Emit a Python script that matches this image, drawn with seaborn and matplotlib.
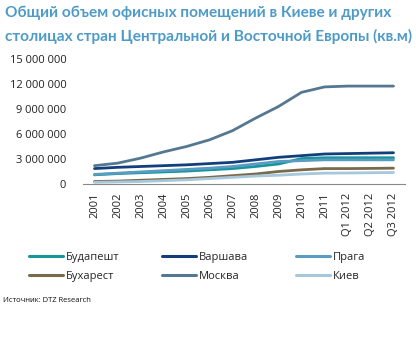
import matplotlib
matplotlib.use('Agg')
import matplotlib.pyplot as plt
import seaborn as sns
import pandas as pd
from matplotlib.ticker import FuncFormatter, FixedLocator

categories = ['2001', '2002', '2003', '2004', '2005', '2006', '2007', '2008',
              '2009', '2010', '2011', 'Q1 2012', 'Q2 2012', 'Q3 2012']
budapest = [1.10, 1.25, 1.35, 1.45, 1.55, 1.70, 1.85, 2.10, 2.40, 3.05, 3.15, 3.15, 3.15, 3.15]
warsaw = [1.85, 2.00, 2.10, 2.20, 2.30, 2.45, 2.60, 2.90, 3.20, 3.40, 3.60, 3.65, 3.70, 3.75]
prague = [1.15, 1.30, 1.45, 1.60, 1.75, 1.90, 2.10, 2.40, 2.70, 2.80, 2.90, 2.90, 2.90, 2.90]
bucharest = [0.30, 0.35, 0.45, 0.55, 0.65, 0.80, 1.00, 1.20, 1.50, 1.70, 1.85, 1.85, 1.87, 1.90]
moscow = [2.20, 2.50, 3.10, 3.85, 4.50, 5.30, 6.40, 7.90, 9.30, 11.00, 11.65, 11.75, 11.75, 11.75]
kiev = [0.20, 0.25, 0.30, 0.40, 0.50, 0.65, 0.80, 0.95, 1.05, 1.20, 1.30, 1.32, 1.35, 1.38]

series_names = ['Будапешт', 'Варшава', 'Прага', 'Бухарест', 'Москва', 'Киев']
series_values = [budapest, warsaw, prague, bucharest, moscow, kiev]
colors = ['#16969a', '#123f7c', '#5a9bc2', '#7a6a4c', '#557892', '#a6c8dc']
yticks = [0, 3000000, 6000000, 9000000, 12000000, 15000000]

title_lines = ['Общий объем офисных помещений в Киеве и других',
               'столицах стран Центральной и Восточной Европы (кв.м)']
source_text = 'Источник: DTZ Research'

rows = []
for name, vals in zip(series_names, series_values):
    for i, (c, v) in enumerate(zip(categories, vals)):
        rows.append({'idx': i, 'cat': c, 'city': name, 'value': v * 1e6})
df = pd.DataFrame(rows)

sns.set_style('white')
plt.rcParams['font.family'] = ['Open Sans', 'DejaVu Sans']

W, H = 416, 337
fig = plt.figure(figsize=(W / 100, H / 100), dpi=100)
ax = fig.add_axes([83 / W, 1 - 184 / H, 322 / W, 125 / H])

sns.lineplot(data=df, x='idx', y='value', hue='city', hue_order=series_names,
             palette=colors, linewidth=2.0, ax=ax, legend=True, sort=False)

ax.set_xlim(-0.5, len(categories) - 0.5)
ax.set_ylim(0, 15000000)
ax.set_yticks(yticks)
ax.yaxis.set_major_formatter(FuncFormatter(lambda v, p: f'{int(v):,}'.replace(',', ' ')))
ax.tick_params(axis='y', length=0, pad=12, labelsize=8, labelcolor='#222222')

ax.xaxis.set_major_locator(FixedLocator([i - 0.5 for i in range(len(categories) + 1)]))
ax.xaxis.set_minor_locator(FixedLocator(list(range(len(categories)))))
ax.set_xticklabels([], minor=False)
ax.set_xticklabels(categories, minor=True, rotation=90, fontsize=8, color='#222222')
ax.tick_params(axis='x', which='major', length=4, width=0.8, color='#888888', direction='out')
ax.tick_params(axis='x', which='minor', length=0, pad=6)
for lab in ax.get_xticklabels(minor=True):
    lab.set_verticalalignment('top')
    lab.set_horizontalalignment('center')

for s in ['left', 'right', 'top']:
    ax.spines[s].set_visible(False)
ax.spines['bottom'].set_color('#888888')
ax.spines['bottom'].set_linewidth(0.8)
ax.set_xlabel('')
ax.set_ylabel('')
ax.grid(False)

handles, labels = ax.get_legend_handles_labels()
ax.get_legend().remove()
for h in handles:
    h.set_linewidth(2.2)

col_x = [29, 162, 296]
for c in range(3):
    hs = [handles[c], handles[c + 3]]
    ls = [labels[c], labels[c + 3]]
    fig.legend(hs, ls, loc='upper left', bbox_to_anchor=(col_x[c] / W, 1 - 252 / H),
               frameon=False, fontsize=8, handlelength=3.1, handletextpad=0.2,
               borderpad=0, borderaxespad=0, labelspacing=0.75)

renderer = fig.canvas.get_renderer()
t1 = fig.text(5 / W, 1 - 13 / H, title_lines[0], fontsize=10.5, fontweight='bold',
              color='#4f9bc7', va='center', ha='left', family=['Lato', 'DejaVu Sans'])
t2 = fig.text(5 / W, 1 - 36 / H, title_lines[1], fontsize=10.5, fontweight='bold',
              color='#4f9bc7', va='center', ha='left', family=['Lato', 'DejaVu Sans'])
w2 = t2.get_window_extent(renderer).width
scale = 408 / w2
t1.set_fontsize(10.5 * scale)
t2.set_fontsize(10.5 * scale)

fig.text(3 / W, 1 - 301 / H, source_text, fontsize=5.5, color='#111111',
         va='center', ha='left')

fig.savefig('out.png', dpi=100, facecolor='white')
